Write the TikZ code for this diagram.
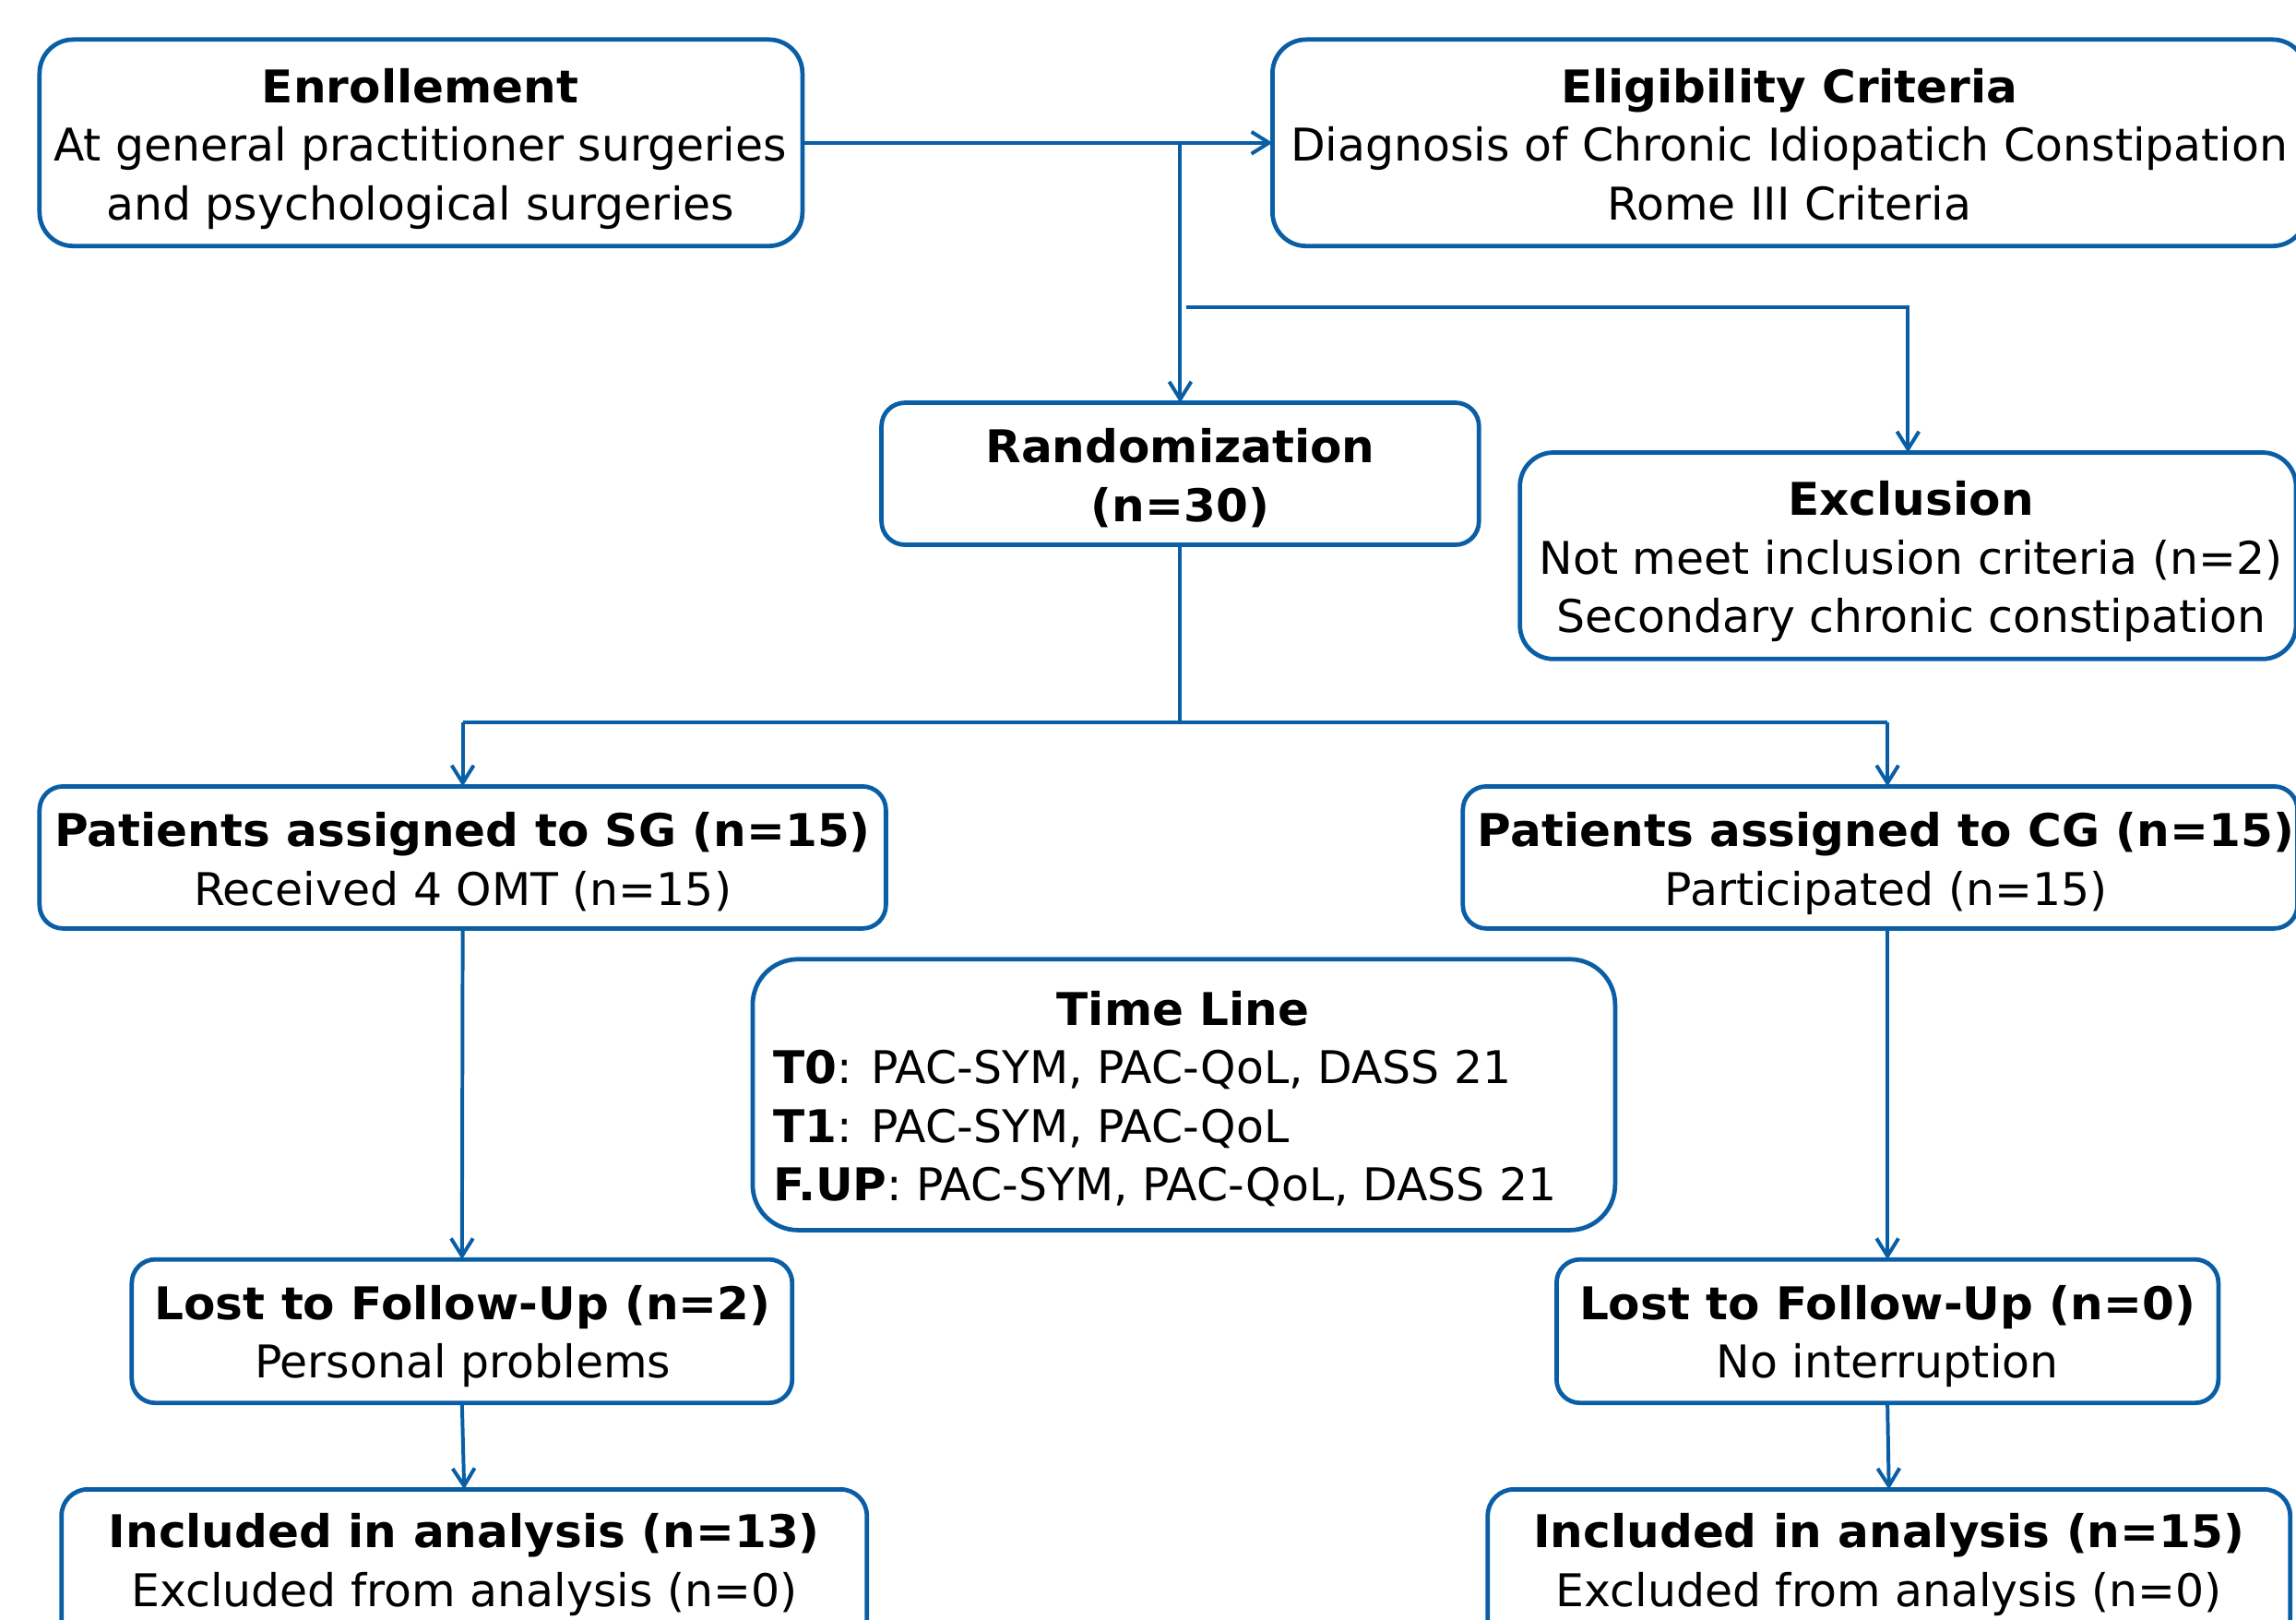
\documentclass[tikz,border=0pt]{standalone}
\usepackage{fontspec}
\setmainfont{DejaVu Sans}[BoldFeatures={FakeStretch=1.025}]
\usetikzlibrary{arrows.meta}
\definecolor{boxblue}{RGB}{10,94,165}
\tikzset{
  box/.style={draw=boxblue, line width=3pt, fill=white, rectangle, inner sep=0pt, outer sep=0pt},
  txt/.style={inner sep=0pt, outer sep=0pt, font=\fontsize{30.8}{40}\selectfont},
  conn/.style={draw=boxblue, line width=2.5pt},
  arr/.style={conn, -{Straight Barb[length=12pt,width=15pt,line width=2.5pt]}},
}
\newcommand\mybox[6]{%
  \node[box, rounded corners=#6pt, minimum width={#4pt-#2pt}, minimum height={#5pt-#3pt}]
    (#1) at ({(#2+#4)/2},{(#3+#5)/2}) {};}
\begin{document}
\begin{tikzpicture}[x=1pt,y=-1pt]
\useasboundingbox (0,0) rectangle (1568,1106);
\clip (0,0) rectangle (1568,1106);

% boxes
\mybox{enr}{27}{27}{548}{168}{23}
\mybox{eli}{869}{27}{1575}{168}{23}
\mybox{rnd}{602}{275}{1010}{372}{16}
\mybox{exc}{1038}{309}{1568}{450}{23}
\mybox{sg}{27}{537}{605}{634}{16}
\mybox{cg}{999}{537}{1569}{634}{16}
\mybox{tl}{514}{655}{1103}{840}{31}
\mybox{lsg}{90}{860}{541}{958}{16}
\mybox{lcg}{1063}{860}{1515}{958}{16}
\mybox{isg}{42}{1017}{592}{1130}{18}
\mybox{icg}{1016}{1017}{1564}{1130}{18}

% texts
\node[txt] (enrT) at (287,102) {\begin{tabular}{@{}c@{}}\textbf{Enrollement}\\At general practitioner surgeries\\and psychological surgeries\end{tabular}};
\node[txt] (eliT) at (1222,102) {\begin{tabular}{@{}c@{}}\textbf{Eligibility Criteria}\\Diagnosis of Chronic Idiopatich Constipation\\Rome III Criteria\end{tabular}};
\node[txt] (rndT) at (806,328) {\begin{tabular}{@{}c@{}}\textbf{Randomization}\\\textbf{(n=30)}\end{tabular}};
\node[txt] (excT) at (1305,384) {\begin{tabular}{@{}c@{}}\textbf{Exclusion}\\Not meet inclusion criteria (n=2)\\Secondary chronic constipation\end{tabular}};
\node[txt] (sgT) at (316,590) {\begin{tabular}{@{}c@{}}\textbf{Patients assigned to SG (n=15)}\\Received 4 OMT (n=15)\end{tabular}};
\node[txt] (cgT) at (1288,590) {\begin{tabular}{@{}c@{}}\textbf{Patients assigned to CG (n=15)}\\Participated (n=15)\end{tabular}};
\node[txt, anchor=west] (tlT) at (528,752) {\begin{tabular}{@{}p{560pt}@{}}\multicolumn{1}{@{}c@{}}{\textbf{Time Line}}\\\textbf{T0}: PAC-SYM, PAC-QoL, DASS 21\\\textbf{T1}: PAC-SYM, PAC-QoL\\\textbf{F.UP}: PAC-SYM, PAC-QoL, DASS 21\end{tabular}};
\node[txt] (lsgT) at (316,913) {\begin{tabular}{@{}c@{}}\textbf{Lost to Follow-Up (n=2)}\\Personal problems\end{tabular}};
\node[txt] (lcgT) at (1289,913) {\begin{tabular}{@{}c@{}}\textbf{Lost to Follow-Up (n=0)}\\No interruption\end{tabular}};
\node[txt] (isgT) at (317,1069) {\begin{tabular}{@{}c@{}}\textbf{Included in analysis (n=13)}\\Excluded from analysis (n=0)\end{tabular}};
\node[txt] (icgT) at (1290,1069) {\begin{tabular}{@{}c@{}}\textbf{Included in analysis (n=15)}\\Excluded from analysis (n=0)\end{tabular}};

% connectors
\coordinate (j1) at (806,97.5);
\coordinate (j2) at (810,210);
\coordinate (split) at (806,493);
\coordinate (sl) at (316,493);
\coordinate (sr) at (1289,493);
\draw[arr] (enr.east) -- (eli.west);
\draw[arr] (j1) -- (rnd.north);
\draw[arr] (j2) -| (exc.north);
\draw[conn] (rnd.south) -- (split);
\draw[conn] (sl) -- (sr);
\draw[arr] (sl) -- (sg.north);
\draw[arr] (sr) -- (sr |- cg.north);
\draw[arr] (sg.south) -- (lsg.north);
\draw[arr] (lcg.north |- cg.south) -- (lcg.north);
\draw[arr] (lsg.south) -- (isg.north);
\draw[arr] (lcg.south) -- (icg.north);
\end{tikzpicture}
\end{document}
